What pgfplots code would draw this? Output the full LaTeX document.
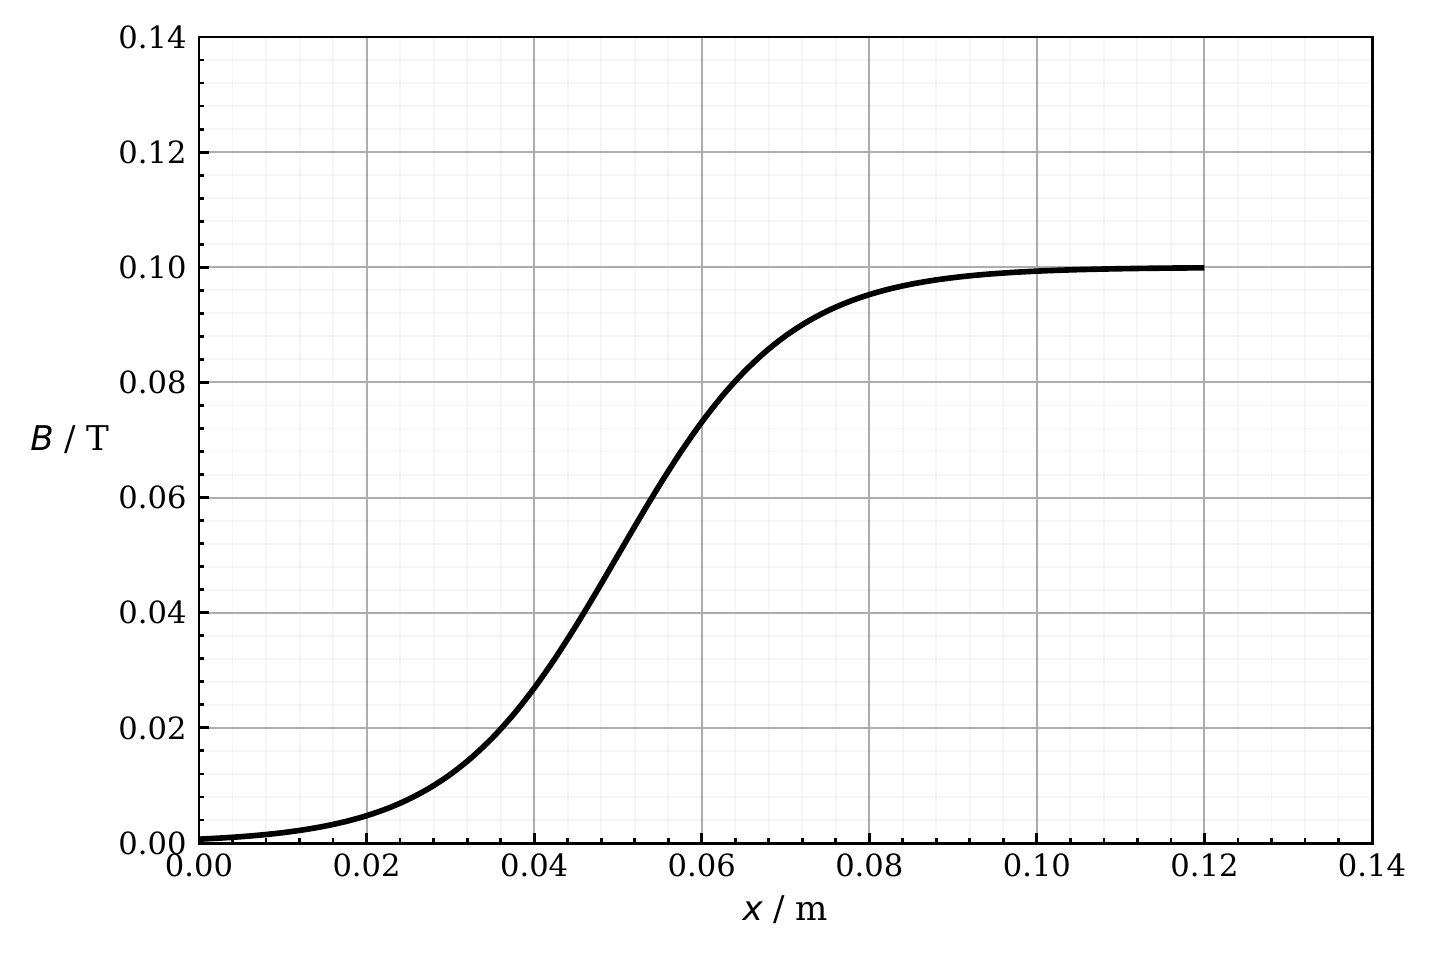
\documentclass[border=0pt]{standalone}
\usepackage{fontspec}
\setmainfont{DejaVu Serif}
\newfontfamily\sansit{DejaVu Sans Oblique}
\usepackage{pgfplots}
\usetikzlibrary{calc}
\pgfplotsset{compat=1.18}

\begin{document}
\begin{tikzpicture}
\begin{axis}[
    name=main,
    scale only axis,
    width=11.73cm,
    height=8.06cm,
    xmin=0, xmax=0.14,
    ymin=0, ymax=0.14,
    xtick={0,0.02,...,0.141},
    ytick={0,0.02,...,0.141},
    minor tick num=4,
    xtick pos=bottom,
    ytick pos=left,
    tick align=inside,
    major tick length=0.1cm,
    minor tick length=0.05cm,
    every tick/.style={black, line width=0.8pt},
    axis line style={black, line width=0.85pt},
    grid=both,
    major grid style={color=black!32, line width=0.55pt},
    minor grid style={color=black, opacity=0.035, line width=0.55pt},
    /pgf/number format/assume math mode=true,
    /pgf/number format/.cd, fixed, fixed zerofill, precision=2,
    /pgfplots/.cd,
    scaled ticks=false,
    tick label style={font=\fontsize{8.7}{10}\selectfont},
    label style={font=\fontsize{9.7}{11}\selectfont},
    xticklabel style={yshift=0.02cm},
    xlabel={{\sansit x} / m},
    ylabel={{\sansit B} / T},
    xlabel style={at={(axis description cs:0.5,0)}, anchor=center, yshift=-0.67cm},
    ylabel style={at={(axis description cs:0,0.5)}, rotate=-90, anchor=east, xshift=-0.77cm},
]
\addplot[black, line width=1.6pt, smooth] coordinates {
(0.0000,0.0006693) (0.0025,0.0008578) (0.0050,0.0010987) (0.0075,0.0014064)
(0.0100,0.0017986) (0.0125,0.0022977) (0.0150,0.0029312) (0.0175,0.0037327)
(0.0200,0.0047426) (0.0225,0.0060087) (0.0250,0.0075858) (0.0275,0.0095350)
(0.0300,0.0119203) (0.0325,0.0148047) (0.0350,0.0182426) (0.0375,0.0222700)
(0.0400,0.0268941) (0.0425,0.0320821) (0.0450,0.0377541) (0.0475,0.0437823)
(0.0500,0.0500000) (0.0525,0.0562177) (0.0550,0.0622459) (0.0575,0.0679179)
(0.0600,0.0731059) (0.0625,0.0777300) (0.0650,0.0817574) (0.0675,0.0851953)
(0.0700,0.0880797) (0.0725,0.0904650) (0.0750,0.0924142) (0.0775,0.0939913)
(0.0800,0.0952574) (0.0825,0.0962673) (0.0850,0.0970688) (0.0875,0.0977023)
(0.0900,0.0982014) (0.0925,0.0985936) (0.0950,0.0989013) (0.0975,0.0991422)
(0.1000,0.0993307) (0.1025,0.0994780) (0.1050,0.0995930) (0.1075,0.0996827)
(0.1100,0.0997527) (0.1125,0.0998073) (0.1150,0.0998499) (0.1175,0.0998830)
(0.1200,0.0999089)
};
\end{axis}
\path (main.south west) ++(-1.99cm,-1.18cm) rectangle ($(main.north east)+(0.67cm,0.37cm)$);
\end{tikzpicture}
\end{document}
